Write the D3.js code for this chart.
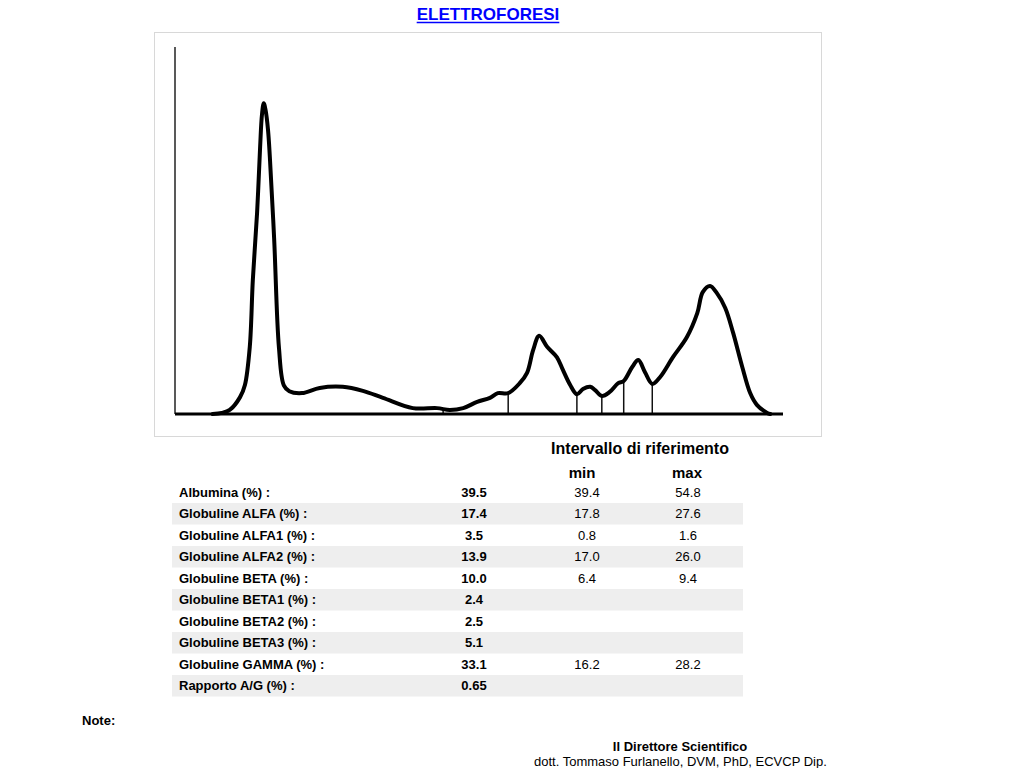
<!DOCTYPE html>
<html>
<head>
<meta charset="utf-8">
<script src="https://cdn.jsdelivr.net/npm/d3@7"></script>
<style>
  body { margin: 0; background: #fff; }
  svg { display: block; font-family: "Liberation Sans", Arial, sans-serif; }
</style>
</head>
<body>
<svg width="1024" height="768"></svg>
<script>
// densitometry trace (migration 0-100, density 0-100)
var traceX = [6.2, 7.7, 9.0, 10.7, 11.5, 12.3, 12.8, 13.5, 14.0, 14.3, 14.6, 14.9, 15.3, 15.6, 16.3, 17.1, 17.9, 18.8,
  20.9, 23.8, 27.6, 30.9, 34.2, 39.1, 43.1, 45.2, 47.4, 49.7, 51.8, 53.1, 54.8, 56.7, 57.9, 58.9, 59.9, 61.2,
  62.8, 63.8, 65.0, 66.1, 67.1, 68.3, 69.1, 70.2, 71.5, 72.9, 73.8, 75.2, 76.2, 77.3, 78.5, 79.8, 81.9, 84.2,
  85.9, 86.8, 88.0, 89.1, 90.5, 91.8, 93.3, 94.6, 95.7, 97.4, 97.9];
var traceY = [0, 0.3, 1.1, 4.6, 7.9, 18.3, 36.5, 54.8, 72.8, 81.5, 84.7, 82.8, 77.4, 70.0, 48.0, 18.0, 7.8, 6.2,
  5.7, 7.1, 7.4, 6.3, 4.4, 1.6, 1.6, 1.1, 1.6, 3.3, 4.4, 5.7, 5.7, 8.4, 11.2, 17.4, 21.3, 18.3,
  15.5, 12.0, 7.9, 5.4, 6.8, 7.4, 6.5, 4.9, 6.0, 8.4, 9.0, 12.8, 14.7, 11.4, 8.2, 10.1, 15.5, 21.0,
  27.5, 33.2, 34.9, 33.0, 28.9, 22.1, 12.8, 5.7, 2.5, 0.3, 0];

// fraction boundaries (albumin|a1|a2|b1|b2|b3|gamma)
var cuts = [44.1, 54.8, 66.1, 70.2, 73.8, 78.5];

// result table
var rowLabels = ['Albumina (%) :', 'Globuline ALFA (%) :', 'Globuline ALFA1 (%) :', 'Globuline ALFA2 (%) :',
  'Globuline BETA (%) :', 'Globuline BETA1 (%) :', 'Globuline BETA2 (%) :', 'Globuline BETA3 (%) :',
  'Globuline GAMMA (%) :', 'Rapporto A/G (%) :'];
var rowValues = ['39.5', '17.4', '3.5', '13.9', '10.0', '2.4', '2.5', '5.1', '33.1', '0.65'];
var rowMin = ['39.4', '17.8', '0.8', '17.0', '6.4', '', '', '', '16.2', ''];
var rowMax = ['54.8', '27.6', '1.6', '26.0', '9.4', '', '', '', '28.2', ''];

var svg = d3.select('svg');

// title
var title = svg.append('text')
    .attr('x', 488)
    .attr('y', 20)
    .attr('text-anchor', 'middle')
    .style('font-size', '17px')
    .style('font-weight', 'bold')
    .style('fill', '#0000ff')
    .text('ELETTROFORESI');
var tb = title.node().getBBox();
svg.append('line')
    .attr('x1', tb.x).attr('x2', tb.x + tb.width)
    .attr('y1', 22.5).attr('y2', 22.5)
    .attr('stroke', '#0000ff')
    .attr('stroke-width', 1.5);

// chart frame
svg.append('rect')
    .attr('x', 154.5).attr('y', 32.5)
    .attr('width', 667).attr('height', 404)
    .attr('fill', 'none')
    .attr('stroke', '#d8d8d8');

var x = d3.scaleLinear().domain([0, 100]).range([175, 783]);
var y = d3.scaleLinear().domain([0, 100]).range([414, 47]);

var pts = traceX.map((d, i) => [d, traceY[i]]);

// y axis (line only)
svg.append('line')
    .attr('x1', x(0)).attr('x2', x(0))
    .attr('y1', y(100)).attr('y2', y(0))
    .attr('stroke', '#222')
    .attr('stroke-width', 1.5);

// fraction dividers
var bis = d3.bisector(d => d[0]).left;
function yAt(v) {
  var i = bis(pts, v);
  var a = pts[i - 1], b = pts[i];
  var t = (v - a[0]) / (b[0] - a[0]);
  return a[1] + t * (b[1] - a[1]);
}
svg.append('g')
  .selectAll('line')
  .data(cuts)
  .enter()
  .append('line')
    .attr('x1', d => x(d)).attr('x2', d => x(d))
    .attr('y1', y(0))
    .attr('y2', d => y(yAt(d)))
    .attr('stroke', '#111')
    .attr('stroke-width', 1.5);

// baseline
svg.append('line')
    .attr('x1', x(0)).attr('x2', x(100))
    .attr('y1', y(0)).attr('y2', y(0))
    .attr('stroke', '#000')
    .attr('stroke-width', 3);

// trace
svg.append('path')
    .datum(pts)
    .attr('fill', 'none')
    .attr('stroke', '#000')
    .attr('stroke-width', 4)
    .attr('stroke-linejoin', 'round')
    .attr('stroke-linecap', 'round')
    .attr('d', d3.line().x(d => x(d[0])).y(d => y(Math.max(0, d[1])))
      .curve(d3.curveCatmullRom.alpha(0.5)));

// table
var rowY = d3.scaleBand().domain(d3.range(rowLabels.length)).range([481.5, 696.5]);

svg.append('text')
    .attr('x', 640).attr('y', 454)
    .attr('text-anchor', 'middle')
    .style('font-size', '16px').style('font-weight', 'bold')
    .text('Intervallo di riferimento');
svg.append('text')
    .attr('x', 582).attr('y', 478)
    .attr('text-anchor', 'middle')
    .style('font-size', '15px').style('font-weight', 'bold')
    .text('min');
svg.append('text')
    .attr('x', 687).attr('y', 478)
    .attr('text-anchor', 'middle')
    .style('font-size', '15px').style('font-weight', 'bold')
    .text('max');

var rows = svg.append('g')
  .selectAll('g')
  .data(rowLabels)
  .enter()
  .append('g')
    .attr('transform', (d, i) => 'translate(0,' + rowY(i) + ')');

rows.filter((d, i) => i % 2 == 1)
  .append('rect')
    .attr('x', 172).attr('y', 0)
    .attr('width', 571).attr('height', rowY.bandwidth())
    .attr('fill', '#eeeeee');

rows.append('text')
    .attr('x', 179).attr('y', rowY.bandwidth() / 2 + 4.5)
    .style('font-size', '13px').style('font-weight', 'bold')
    .text(d => d);
rows.append('text')
    .attr('x', 474).attr('y', rowY.bandwidth() / 2 + 4.5)
    .attr('text-anchor', 'middle')
    .style('font-size', '13px').style('font-weight', 'bold')
    .text((d, i) => rowValues[i]);
rows.append('text')
    .attr('x', 587).attr('y', rowY.bandwidth() / 2 + 4.5)
    .attr('text-anchor', 'middle')
    .style('font-size', '13px')
    .text((d, i) => rowMin[i]);
rows.append('text')
    .attr('x', 688).attr('y', rowY.bandwidth() / 2 + 4.5)
    .attr('text-anchor', 'middle')
    .style('font-size', '13px')
    .text((d, i) => rowMax[i]);

// footer
svg.append('text')
    .attr('x', 82).attr('y', 725)
    .style('font-size', '13px').style('font-weight', 'bold')
    .text('Note:');
svg.append('text')
    .attr('x', 680).attr('y', 751)
    .attr('text-anchor', 'middle')
    .style('font-size', '13px').style('font-weight', 'bold')
    .text('Il Direttore Scientifico');
svg.append('text')
    .attr('x', 534).attr('y', 766)
    .style('font-size', '13px')
    .text('dott. Tommaso Furlanello, DVM, PhD, ECVCP Dip.');
</script>
</body>
</html>
